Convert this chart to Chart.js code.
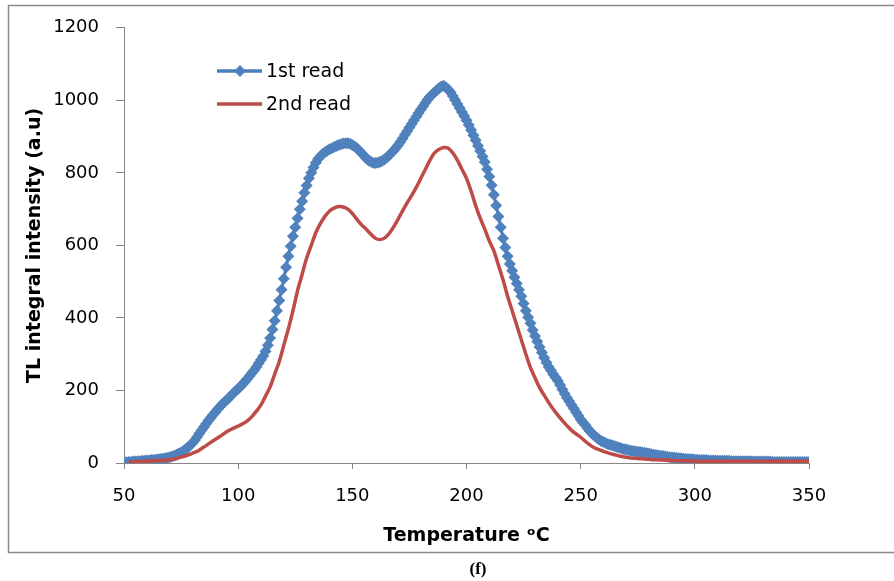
<!DOCTYPE html>
<html>
<head>
<meta charset="utf-8">
<script src="https://cdn.jsdelivr.net/npm/chart.js@4"></script>
<style>
  html, body { margin: 0; padding: 0; background: #fff; }
  #wrap { position: relative; width: 894px; height: 581px; }
</style>
</head>
<body>
<div id="wrap"><canvas id="chart-tl" width="894" height="581"></canvas></div>
<script>
// temperaturas de la 1ra lectura (cada 1 ºC)
const temps1 = [
  51, 52, 53, 54, 55, 56, 57, 58, 59, 60,
  61, 62, 63, 64, 65, 66, 67, 68, 69, 70,
  71, 72, 73, 74, 75, 76, 77, 78, 79, 80,
  81, 82, 83, 84, 85, 86, 87, 88, 89, 90,
  91, 92, 93, 94, 95, 96, 97, 98, 99, 100,
  101, 102, 103, 104, 105, 106, 107, 108, 109, 110,
  111, 112, 113, 114, 115, 116, 117, 118, 119, 120,
  121, 122, 123, 124, 125, 126, 127, 128, 129, 130,
  131, 132, 133, 134, 135, 136, 137, 138, 139, 140,
  141, 142, 143, 144, 145, 146, 147, 148, 149, 150,
  151, 152, 153, 154, 155, 156, 157, 158, 159, 160,
  161, 162, 163, 164, 165, 166, 167, 168, 169, 170,
  171, 172, 173, 174, 175, 176, 177, 178, 179, 180,
  181, 182, 183, 184, 185, 186, 187, 188, 189, 190,
  191, 192, 193, 194, 195, 196, 197, 198, 199, 200,
  201, 202, 203, 204, 205, 206, 207, 208, 209, 210,
  211, 212, 213, 214, 215, 216, 217, 218, 219, 220,
  221, 222, 223, 224, 225, 226, 227, 228, 229, 230,
  231, 232, 233, 234, 235, 236, 237, 238, 239, 240,
  241, 242, 243, 244, 245, 246, 247, 248, 249, 250,
  251, 252, 253, 254, 255, 256, 257, 258, 259, 260,
  261, 262, 263, 264, 265, 266, 267, 268, 269, 270,
  271, 272, 273, 274, 275, 276, 277, 278, 279, 280,
  281, 282, 283, 284, 285, 286, 287, 288, 289, 290,
  291, 292, 293, 294, 295, 296, 297, 298, 299, 300,
  301, 302, 303, 304, 305, 306, 307, 308, 309, 310,
  311, 312, 313, 314, 315, 316, 317, 318, 319, 320,
  321, 322, 323, 324, 325, 326, 327, 328, 329, 330,
  331, 332, 333, 334, 335, 336, 337, 338, 339, 340,
  341, 342, 343, 344, 345, 346, 347, 348, 349, 350
]

const firstRead = [
  2, 3, 3, 4, 4, 5, 5, 6, 6, 7,
  7, 8, 8, 9, 10, 11, 12, 13, 14, 16,
  18, 20, 23, 26, 29, 33, 38, 43, 49, 55,
  63, 72, 81, 90, 99, 108, 117, 125, 133, 140,
  148, 155, 162, 168, 174, 180, 187, 193, 199, 205,
  211, 218, 225, 232, 240, 248, 256, 265, 275, 285,
  295, 308, 325, 345, 368, 392, 420, 448, 478, 508,
  540, 570, 598, 625, 650, 675, 700, 722, 745, 765,
  785, 800, 815, 828, 838, 846, 852, 857, 861, 865,
  868, 871, 874, 877, 879, 881, 882, 882, 880, 877,
  873, 868, 862, 855, 848, 841, 835, 831, 828, 827,
  828, 830, 833, 837, 842, 848, 854, 861, 868, 876,
  885, 895, 905, 915, 925, 935, 945, 955, 965, 975,
  984, 993, 1002, 1010, 1016, 1022, 1028, 1034, 1038, 1040,
  1036, 1030, 1022, 1012, 1001, 990, 979, 968, 957, 945,
  932, 918, 904, 890, 875, 860, 845, 830, 810, 790,
  766, 740, 710, 680, 650, 620, 594, 570, 549, 530,
  512, 495, 478, 460, 440, 420, 402, 385, 367, 350,
  335, 320, 305, 290, 277, 265, 255, 245, 236, 227,
  215, 203, 191, 180, 170, 160, 150, 140, 130, 120,
  112, 105, 96, 88, 81, 75, 70, 65, 61, 58,
  55, 52, 50, 48, 46, 44, 42, 40, 38, 37,
  35, 34, 33, 32, 31, 30, 29, 28, 27, 26,
  24, 23, 22, 21, 20, 19, 18, 17, 16, 15,
  15, 14, 13, 13, 12, 11, 11, 10, 10, 9,
  9, 8, 8, 8, 8, 7, 7, 7, 7, 6,
  6, 6, 6, 6, 6, 5, 5, 5, 5, 5,
  5, 5, 5, 5, 4, 4, 4, 4, 4, 4,
  4, 4, 4, 3, 3, 3, 3, 3, 3, 3,
  3, 3, 3, 3, 3, 3, 3, 3, 3, 3
]

// temperaturas de la 2da lectura (cada 2 ºC)
const temps2 = [
  52, 54, 56, 58, 60, 62, 64, 66, 68, 70,
  72, 74, 76, 78, 80, 82, 84, 86, 88, 90,
  92, 94, 96, 98, 100, 102, 104, 106, 108, 110,
  112, 114, 116, 118, 120, 122, 124, 126, 128, 130,
  132, 134, 136, 138, 140, 142, 144, 146, 148, 150,
  152, 154, 156, 158, 160, 162, 164, 166, 168, 170,
  172, 174, 176, 178, 180, 182, 184, 186, 188, 190,
  192, 194, 196, 198, 200, 202, 204, 206, 208, 210,
  212, 214, 216, 218, 220, 222, 224, 226, 228, 230,
  232, 234, 236, 238, 240, 242, 244, 246, 248, 250,
  252, 254, 256, 258, 260, 262, 264, 266, 268, 270,
  272, 274, 276, 278, 280, 282, 284, 286, 288, 290,
  292, 294, 296, 298, 300, 302, 304, 306, 308, 310,
  312, 314, 316, 318, 320, 322, 324, 326, 328, 330,
  332, 334, 336, 338, 340, 342, 344, 346, 348, 350
]

const secondRead = [
  2, 3, 4, 4, 5, 6, 7, 7, 8, 9,
  11, 14, 18, 22, 27, 32, 40, 48, 57, 65,
  73, 82, 90, 96, 102, 108, 116, 128, 143, 160,
  185, 210, 245, 280, 325, 370, 420, 475, 520, 565,
  600, 635, 660, 680, 695, 703, 707, 706, 700, 688,
  672, 657, 645, 632, 620, 616, 620, 632, 650, 672,
  695, 717, 738, 760, 785, 810, 835, 855, 865, 870,
  868, 855, 835, 810, 785, 750, 710, 675, 645, 612,
  585, 545, 505, 460, 420, 380, 340, 300, 263, 235,
  208, 187, 167, 148, 132, 117, 103, 90, 80, 71,
  60, 50, 42, 37, 32, 28, 24, 21, 18, 16,
  14, 13, 12, 11, 10, 9, 9, 8, 8, 7,
  7, 6, 6, 6, 5, 5, 5, 5, 5, 5,
  5, 5, 5, 5, 5, 5, 5, 5, 5, 5,
  5, 5, 5, 5, 5, 5, 5, 5, 5, 5
]

const xTicks = [50, 100, 150, 200, 250, 300, 350]
const yTicks = [0, 200, 400, 600, 800, 1000, 1200]

const BLUE = '#4A7EBB'
const RED = '#BE4B48'
const AXIS = '#868686'
const FONT = "'DejaVu Sans', sans-serif"

// marco exterior, leyenda y rótulo (f)
const extras = {
  id: 'extras',
  beforeDraw(chart) {
    const ctx = chart.ctx
    ctx.save()
    ctx.fillStyle = '#fff'
    ctx.fillRect(0, 0, chart.width, chart.height)
    ctx.strokeStyle = '#8a8a8a'
    ctx.lineWidth = 1.5
    ctx.strokeRect(8.5, 5.5, 900, 547)
    ctx.restore()
  },
  afterDraw(chart) {
    const ctx = chart.ctx
    ctx.save()
    const items = [
      { label: '1st read', color: BLUE, y: 71, marker: true },
      { label: '2nd read', color: RED, y: 104, marker: false }
    ]
    items.forEach(it => {
      ctx.strokeStyle = it.color
      ctx.lineWidth = 3.5
      ctx.beginPath()
      ctx.moveTo(217, it.y)
      ctx.lineTo(262, it.y)
      ctx.stroke()
      if (it.marker) {
        ctx.fillStyle = '#4F81BD'
        ctx.beginPath()
        ctx.moveTo(240, it.y - 6)
        ctx.lineTo(246, it.y)
        ctx.lineTo(240, it.y + 6)
        ctx.lineTo(234, it.y)
        ctx.closePath()
        ctx.fill()
      }
      ctx.fillStyle = '#000'
      ctx.font = '19px ' + FONT
      ctx.textBaseline = 'middle'
      ctx.textAlign = 'left'
      ctx.fillText(it.label, 266, it.y + 1)
    })
    ctx.font = "bold 17px 'Liberation Serif', serif"
    ctx.textAlign = 'center'
    ctx.textBaseline = 'middle'
    ctx.fillText('(f)', 478, 570)
    ctx.restore()
  }
}

new Chart(document.getElementById('chart-tl'), {
  type: 'line',
  data: {
    datasets: [{
      label: '1st read',
      data: temps1.map((t, i) => ({ x: t, y: firstRead[i] })),
      borderColor: BLUE,
      backgroundColor: '#4F81BD',
      borderWidth: 3,
      pointStyle: 'rectRot',
      pointRadius: 6,
      pointBorderWidth: 0,
      tension: 0,
      order: 2
    }, {
      label: '2nd read',
      data: temps2.map((t, i) => ({ x: t, y: secondRead[i] })),
      borderColor: RED,
      backgroundColor: RED,
      borderWidth: 3.5,
      pointRadius: 0,
      tension: 0.3,
      order: 1
    }]
  },
  options: {
    responsive: false,
    animation: false,
    devicePixelRatio: 1,
    layout: { padding: { left: 0, right: 85, top: 25, bottom: 0 } },
    plugins: {
      legend: { display: false },
      tooltip: { enabled: false }
    },
    scales: {
      x: {
        type: 'linear',
        min: 50,
        max: 350,
        afterFit: s => { s.height = 118 },
        afterBuildTicks: s => { s.ticks = xTicks.map(v => ({ value: v })) },
        grid: { drawOnChartArea: false, tickLength: 6, color: AXIS, tickColor: AXIS },
        border: { color: AXIS, width: 1 },
        ticks: {
          color: '#000', font: { family: FONT, size: 18 }, padding: 17, maxRotation: 0,
          callback: v => String(v)
        },
        title: {
          display: true,
          text: 'Temperature \u1D52C',
          color: '#000',
          font: { family: FONT, size: 19, weight: 'bold' },
          padding: { top: 0, bottom: 34 }
        }
      },
      y: {
        min: 0,
        max: 1200,
        afterFit: s => { s.width = 124 },
        afterBuildTicks: s => { s.ticks = yTicks.map(v => ({ value: v })) },
        grid: { drawOnChartArea: false, tickLength: 8, color: AXIS, tickColor: AXIS },
        border: { color: AXIS, width: 1 },
        ticks: {
          color: '#000', font: { family: FONT, size: 18 }, padding: 17,
          callback: v => String(v)
        },
        title: {
          display: true,
          text: 'TL integral intensity (a.u)',
          color: '#000',
          font: { family: FONT, size: 19, weight: 'bold' },
          padding: { top: 24, bottom: 0 }
        }
      }
    }
  },
  plugins: [extras]
})
</script>
</body>
</html>
